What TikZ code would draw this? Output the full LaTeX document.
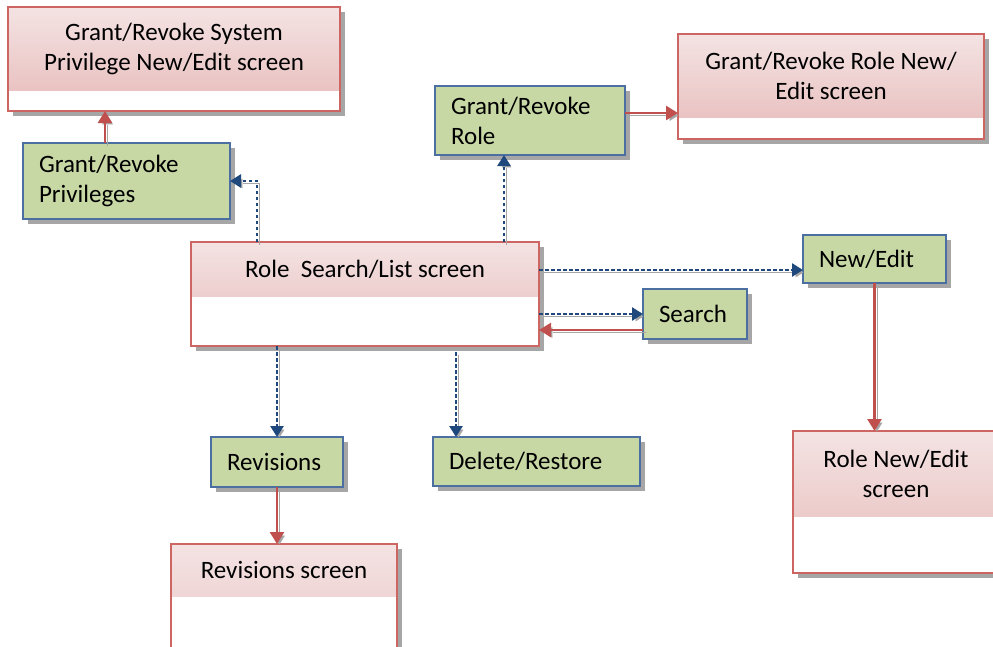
\documentclass[tikz,border=0pt]{standalone}
\usepackage{fontspec}
\setmainfont{Carlito}
\usepackage{xcolor}
\usepackage{tikz}
\usetikzlibrary{arrows.meta,shadows}
\definecolor{redc}{HTML}{C0504D}
\definecolor{bluec}{HTML}{1F497D}
\definecolor{grnc}{HTML}{C8D8A5}
\definecolor{grnbd}{HTML}{4A6FA0}
\definecolor{pinkt}{HTML}{F4E3E3}
\definecolor{pinkb}{HTML}{E7BBBA}
\definecolor{bordc}{HTML}{CD6563}
\definecolor{shdc}{HTML}{A6A6A6}
\tikzset{
  ra/.style={-{Triangle[length=12pt,width=14pt]},line width=2.6pt,redc,
    preaction={draw=shdc,transform canvas={xshift=2.5pt,yshift=-2.5pt}}},
  ba/.style={-{Triangle[length=11pt,width=13pt]},line width=2.6pt,bluec,dash pattern=on 3.5pt off 2.5pt,
    preaction={draw=shdc,transform canvas={xshift=2.5pt,yshift=-2.5pt}}},
  gb/.style={draw=grnbd,line width=1.2pt,fill=grnc,inner xsep=16pt,inner ysep=2pt,align=left,outer sep=0pt,
    font=\fontsize{25}{30}\selectfont,
    drop shadow={shadow xshift=5pt,shadow yshift=-5pt,fill=shdc,opacity=1}},
  hdr/.store in=\hdrh, hdr=50,
  sc/.style={draw=bordc,line width=1.2pt,fill=white,outer sep=0pt,
    drop shadow={shadow xshift=5pt,shadow yshift=-5pt,fill=shdc,opacity=1},
    path picture={\shade[top color=pinkt,bottom color=pinkb] (path picture bounding box.north west) rectangle ([yshift=-\hdrh]path picture bounding box.north east);}},
  st/.style={align=center,inner sep=0pt,font=\fontsize{25}{30}\selectfont}
}
\newcommand{\scrn}[7]{%
  \node[sc,minimum width=#4,minimum height=#5,hdr=#6] (#1) at (#2,#3) {};
  \node[st] (#1t) at ([yshift=-#6/2]#1.north) {#7};}

\begin{document}
\begin{tikzpicture}[x=1pt,y=-1pt]
\useasboundingbox (0,0) rectangle (993,646);
\clip (0,0) rectangle (993,646);
\scrn{sysscr}{174}{59}{332}{104}{83}{Grant/Revoke System\\Privilege New/Edit screen}
\scrn{grscr}{831}{86.5}{306}{105}{83}{Grant/Revoke Role New/\\Edit screen}
\scrn{rolescr}{365}{294}{348}{104}{54}{Role\ \ Search/List screen}
\scrn{revscr}{284}{624}{226}{160}{52}{Revisions screen}
\scrn{renscr}{896}{502}{206}{142}{85}{Role New/Edit\\screen}
\node[gb,text width=175pt,minimum height=76pt] (gpriv) at (126.5,181) {Grant/Revoke\\Privileges};
\node[gb,text width=158pt,minimum height=69pt] (grole) at (530,120.5) {Grant/Revoke\\Role};
\node[gb,text width=111pt,minimum height=48pt] (newedit) at (874.5,259) {New/Edit};
\node[gb,text width=72pt,minimum height=50pt] (search) at (695,314) {Search};
\node[gb,text width=100pt,minimum height=50pt] (revis) at (277,462) {Revisions};
\node[gb,text width=175pt,minimum height=49pt] (delres) at (536.5,461.5) {Delete/Restore};
\draw[ra] ([xshift=-21.5pt]gpriv.north) -- ([xshift=-21.5pt]gpriv.north |- sysscr.south);
\draw[ba] ([xshift=-108pt]rolescr.north) |- (gpriv.east);
\draw[ba] ([xshift=139pt]rolescr.north) -- ([xshift=139pt]rolescr.north |- grole.south);
\draw[ra] ([yshift=7.5pt]grole.east) -- ([yshift=7.5pt]grole.east -| grscr.west);
\draw[ba] ([yshift=-11pt]newedit.west -| rolescr.east) -- ([yshift=-11pt]newedit.west);
\draw[ba] (search.west -| rolescr.east) -- (search.west);
\draw[ra] ([yshift=-16pt]search.west) -- ([yshift=-16pt]search.west -| rolescr.east);
\draw[ba] (revis.north |- rolescr.south) -- (revis.north);
\draw[ba] ([xshift=-80.5pt,yshift=-6pt]delres.north |- rolescr.south) -- ([xshift=-80.5pt]delres.north);
\draw[ra] (revis.south) -- (revis.south |- revscr.north);
\draw[ra] (newedit.south) -- (newedit.south |- renscr.north);
\end{tikzpicture}
\end{document}
